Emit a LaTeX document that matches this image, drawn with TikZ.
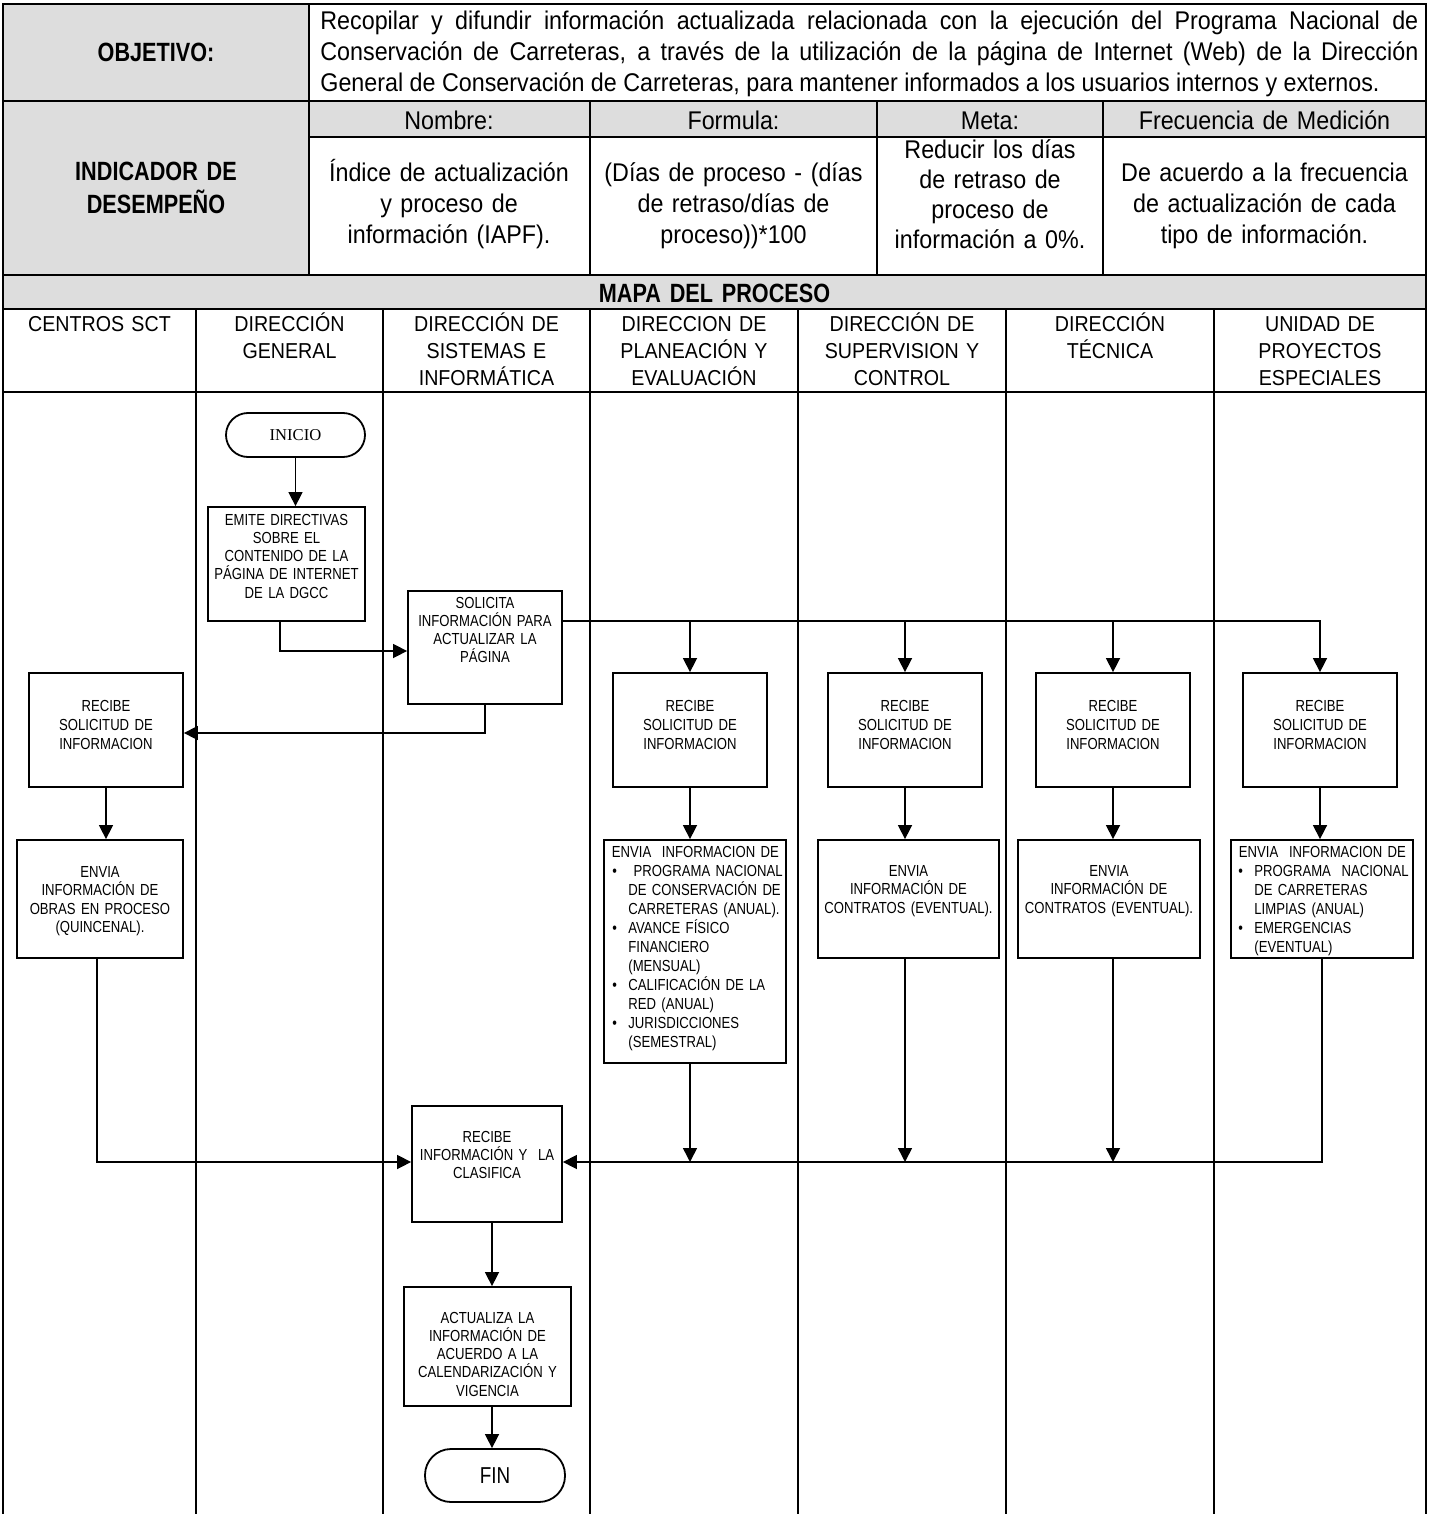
\documentclass[tikz,border=0pt]{standalone}
\usepackage{fontspec}
\setmainfont{Liberation Sans}[FakeStretch=0.91]
\newfontfamily\narrowfont{Liberation Sans}[FakeStretch=0.82]
\newfontfamily\titlefont{Liberation Sans}[FakeStretch=0.82,WordSpace=0.75]
\newfontfamily\termfont{Liberation Serif}
\usetikzlibrary{arrows.meta,calc}
\definecolor{cellgray}{HTML}{DDDDDD}
\begin{document}
\begin{tikzpicture}[x=0.5pt,y=-0.5pt,
  rule/.style={line width=1pt},
  box/.style={draw,line width=0.9pt,fill=white,inner sep=0pt},
  sz/.style 2 args={minimum width=#1,minimum height=#2},
  term/.style={box,rounded corners=#1},
  boxtext/.style={inner sep=0pt,anchor=base,align=center,text width=110pt,
     font=\narrowfont\fontsize{8}{9.3}\selectfont},
  listtext/.style={inner sep=0pt,anchor=base west,align=left,text width=100pt,
     font=\narrowfont\fontsize{8}{9.5}\selectfont},
  toptext/.style={inner sep=0pt,anchor=base,align=center,text width=160pt,
     font=\fontsize{12.8}{15.5}\selectfont},
  lanetext/.style={inner sep=0pt,anchor=base,align=center,text width=100pt,
     font=\fontsize{10.8}{13.5}\selectfont},
  titletext/.style={inner sep=0pt,anchor=base,align=center,text width=150pt,
     font=\titlefont\bfseries\fontsize{13.2}{16.5}\selectfont},
  conn/.style={line width=0.75pt},
  arr/.style={conn,-{Triangle[length=7pt,width=7pt]}}
]
\useasboundingbox (0,0) rectangle (1429,1514);

% shaded header cells
\fill[cellgray] (3,4) rectangle (309,275);
\fill[cellgray] (309,101) rectangle (1426,137);
\fill[cellgray] (3,275) rectangle (1426,309);

% table rules and swimlane dividers
\draw[rule] (3,1514) -- (3,4) -- (1426,4) -- (1426,1514);
\foreach \y in {101,275,309,392} \draw[rule] (3,\y) -- (1426,\y);
\draw[rule] (309,137) -- (1426,137);
\draw[rule] (309,4) -- (309,275);
\foreach \x in {590,877,1103} \draw[rule] (\x,101) -- (\x,275);
\foreach \x in {196,383,590,798,1006,1214} \draw[rule] (\x,309) -- (\x,1514);

% objective and indicator block
\node[titletext] (objlbl) at (156,62) {OBJETIVO:};
\node[inner sep=0pt,anchor=base west,align=justify,text width=549pt,
      font=\fontsize{12.8}{15.5}\selectfont] (objtxt) at (320,30)
  {Recopilar y difundir información actualizada relacionada con la ejecución del Programa Nacional de\linebreak
   Conservación de Carreteras, a través de la utilización de la página de Internet (Web) de la Dirección\linebreak
   General de Conservación de Carreteras, para mantener informados a los usuarios internos y externos.};
\node[titletext] (indlbl) at (156,181) {INDICADOR DE\\DESEMPEÑO};

\node[toptext] (hnom)  at (449,130)    {Nombre:};
\node[toptext] (hfor)  at (733.5,130)  {Formula:};
\node[toptext] (hmeta) at (990,130)    {Meta:};
\node[toptext] (hfrec) at (1264.5,130) {Frecuencia de Medición};

\node[toptext] (vnom)  at (449,182)    {Índice de actualización\\y proceso de\\información (IAPF).};
\node[toptext] (vfor)  at (733.5,182)  {(Días de proceso - (días\\de retraso/días de\\proceso))*100};
\node[toptext,font=\fontsize{12.8}{15}\selectfont] (vmeta) at (990,159)
  {Reducir los días\\de retraso de\\proceso de\\información a 0\%.};
\node[toptext] (vfrec) at (1264.5,182) {De acuerdo a la frecuencia\\de actualización de cada\\tipo de información.};

\node[titletext] (mapa) at (714.5,302) {MAPA DEL PROCESO};

% swimlane titles
\node[lanetext] (l1) at (99.5,331)  {CENTROS SCT};
\node[lanetext] (l2) at (289.5,331) {DIRECCIÓN\\GENERAL};
\node[lanetext] (l3) at (486.5,331) {DIRECCIÓN DE\\SISTEMAS E\\INFORMÁTICA};
\node[lanetext] (l4) at (694,331)   {DIRECCION DE\\PLANEACIÓN Y\\EVALUACIÓN};
\node[lanetext] (l5) at (902,331)   {DIRECCIÓN DE\\SUPERVISION Y\\CONTROL};
\node[lanetext] (l6) at (1110,331)  {DIRECCIÓN\\TÉCNICA};
\node[lanetext] (l7) at (1320,331)  {UNIDAD DE\\PROYECTOS\\ESPECIALES};

% process boxes
\node[term=11pt,sz={69.5pt}{22pt},font=\termfont\fontsize{8.3}{10}\selectfont] (inicio) at (295.5,435) {INICIO};
\node[box,sz={78.5pt}{57pt}]   (emite)    at (286.5,564) {};
\node[box,sz={77pt}{56.5pt}]   (solicita) at (485,647.5) {};
\node[box,sz={77pt}{57pt}]     (recC)     at (106,730) {};
\node[box,sz={83pt}{59pt}]     (envC)     at (100,899) {};
\node[box,sz={77pt}{57pt}]     (recP)     at (690,730) {};
\node[box,sz={77pt}{57pt}]     (recS)     at (905,730) {};
\node[box,sz={77pt}{57pt}]     (recT)     at (1113,730) {};
\node[box,sz={77pt}{57pt}]     (recU)     at (1320,730) {};
\node[box,sz={91pt}{111.5pt}]  (envP)     at (695,951.5) {};
\node[box,sz={90.5pt}{59pt}]   (envS)     at (908.5,899) {};
\node[box,sz={91pt}{59pt}]     (envT)     at (1109,899) {};
\node[box,sz={91pt}{59pt}]     (envU)     at (1322,899) {};
\node[box,sz={75pt}{58pt}]     (recI)     at (487,1164) {};
\node[box,sz={83.5pt}{59.5pt}] (act)      at (487.5,1346.5) {};
\node[term=13pt,sz={70pt}{26.5pt},font=\narrowfont\fontsize{11.5}{13}\selectfont] (fin) at (495,1475.5) {FIN};

% box captions
\node[boxtext,font=\narrowfont\fontsize{8}{9.15}\selectfont] (temite) at (286.5,525) {EMITE DIRECTIVAS\\SOBRE EL\\CONTENIDO DE LA\\PÁGINA DE INTERNET\\DE LA DGCC};
\node[boxtext,font=\narrowfont\fontsize{8}{9.15}\selectfont] (tsolicita) at (485,608) {SOLICITA\\INFORMACIÓN PARA\\ACTUALIZAR LA\\PÁGINA};
\foreach \n/\x in {C/106,P/690,S/905,T/1113,U/1320}
  \node[boxtext,font=\narrowfont\fontsize{8}{9.6}\selectfont] (trec\n) at (\x,711) {RECIBE\\SOLICITUD DE\\INFORMACION};
\node[boxtext] (tenvC) at (100,877) {ENVIA\\INFORMACIÓN DE\\OBRAS EN PROCESO\\(QUINCENAL).};
\node[boxtext] (tenvS) at (908.5,876) {ENVIA\\INFORMACIÓN DE\\CONTRATOS (EVENTUAL).};
\node[boxtext] (tenvT) at (1109,876) {ENVIA\\INFORMACIÓN DE\\CONTRATOS (EVENTUAL).};
\node[listtext] (tenvP) at (608,857) {%
  \makebox[87pt][c]{ENVIA\ \ INFORMACION DE}\\
  \makebox[10pt][l]{\hspace{2pt}\textbullet}\ PROGRAMA NACIONAL\\
  \hspace*{10pt}DE CONSERVACIÓN DE\\
  \hspace*{10pt}CARRETERAS (ANUAL).\\
  \makebox[10pt][l]{\hspace{2pt}\textbullet}AVANCE FÍSICO\\
  \hspace*{10pt}FINANCIERO\\
  \hspace*{10pt}(MENSUAL)\\
  \makebox[10pt][l]{\hspace{2pt}\textbullet}CALIFICACIÓN DE LA\\
  \hspace*{10pt}RED (ANUAL)\\
  \makebox[10pt][l]{\hspace{2pt}\textbullet}JURISDICCIONES\\
  \hspace*{10pt}(SEMESTRAL)};
\node[listtext] (tenvU) at (1234,857) {%
  \makebox[88pt][c]{ENVIA\ \ INFORMACION DE}\\
  \makebox[10pt][l]{\hspace{2pt}\textbullet}PROGRAMA\ \ NACIONAL\\
  \hspace*{10pt}DE CARRETERAS\\
  \hspace*{10pt}LIMPIAS (ANUAL)\\
  \makebox[10pt][l]{\hspace{2pt}\textbullet}EMERGENCIAS\\
  \hspace*{10pt}(EVENTUAL)};
\node[boxtext,font=\narrowfont\fontsize{8}{9.15}\selectfont] (trecI) at (487,1142) {RECIBE\\INFORMACIÓN Y\ \ LA\\CLASIFICA};
\node[boxtext,font=\narrowfont\fontsize{8}{9.15}\selectfont] (tact) at (487.5,1323) {ACTUALIZA LA\\INFORMACIÓN DE\\ACUERDO A LA\\CALENDARIZACIÓN Y\\VIGENCIA};

% connectors
\coordinate (trunk) at ([yshift=13.25pt]solicita.east);
\coordinate (mergeW) at ([yshift=1pt]recI.west);
\coordinate (mergeE) at ([yshift=1pt]recI.east);
\draw[arr] (inicio.south) -- (inicio.south |- emite.north);
\draw[arr] ([xshift=-3.25pt]emite.south) |- ([yshift=-1.75pt]solicita.west);
\draw[arr] (trunk) -| (recU.north);
\foreach \n in {P,S,T}
  \draw[arr] (trunk -| rec\n.north) -- (rec\n.north);
\draw[arr] (solicita.south) |- ([yshift=-1.5pt]recC.east);
\draw[arr] (recC.south) -- (recC.south |- envC.north);
\foreach \n in {P,S,T,U}
  \draw[arr] (rec\n.south) -- (rec\n.south |- env\n.north);
\draw[arr] ([xshift=-1.5pt]envC.south) |- (mergeW);
\draw[arr] (envU.south) |- (mergeE);
\foreach \n in {P,S,T}
  \draw[arr] (env\n.south -| rec\n.south) -- (rec\n.south |- mergeE);
\draw[arr] ([xshift=2.5pt]recI.south) -- ([xshift=2.5pt]recI.south |- act.north);
\draw[arr] ([xshift=2.25pt]act.south) -- ([xshift=2.25pt]act.south |- fin.north);
\end{tikzpicture}
\end{document}
